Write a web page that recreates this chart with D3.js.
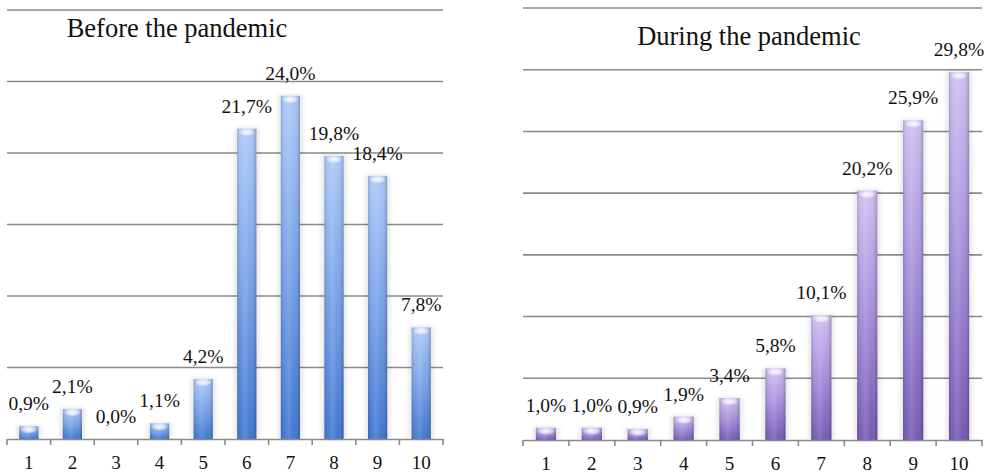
<!DOCTYPE html>
<html>
<head>
<meta charset="utf-8">
<script src="https://cdn.jsdelivr.net/npm/d3@7"></script>
<style>
  html, body { margin: 0; padding: 0; background: #ffffff; }
  svg { display: block; }
  text { font-family: "Liberation Serif", "Times New Roman", serif; fill: #111; }
</style>
</head>
<body>
<svg id="chart" width="989" height="474"></svg>
<script>
// Score categories (1–10) shared by both panels
const categories = ["1", "2", "3", "4", "5", "6", "7", "8", "9", "10"];

// Share of respondents per score, in percent
const beforeValues = [0.9, 2.1, 0.0, 1.1, 4.2, 21.7, 24.0, 19.8, 18.4, 7.8];
const duringValues = [1.0, 1.0, 0.9, 1.9, 3.4, 5.8, 10.1, 20.2, 25.9, 29.8];

// Value-axis tick values (grid lines)
const beforeTicks = [0, 5, 10, 15, 20, 25, 30];
const duringTicks = [0, 5, 10, 15, 20, 25, 30, 35];

const svg = d3.select("#chart");
const defs = svg.append("defs");

// Soft halo behind the bars
const halo = defs.append("filter").attr("id", "halo")
  .attr("x", "-50%").attr("y", "-10%").attr("width", "200%").attr("height", "120%");
halo.append("feGaussianBlur").attr("in", "SourceGraphic").attr("stdDeviation", 2.2);

// Horizontal cylinder shading, shared by all bars
const cyl = defs.append("linearGradient").attr("id", "cyl")
  .attr("x1", "0").attr("x2", "1").attr("y1", "0").attr("y2", "0");
[["0%", "#000", 0.16], ["18%", "#fff", 0.05], ["42%", "#fff", 0.16],
 ["70%", "#fff", 0.02], ["100%", "#000", 0.22]].forEach(([o, c, a]) =>
  cyl.append("stop").attr("offset", o).attr("stop-color", c).attr("stop-opacity", a));

// Light cap at the top of each bar
const cap = defs.append("radialGradient").attr("id", "cap")
  .attr("cx", "50%").attr("cy", "50%").attr("r", "50%");
cap.append("stop").attr("offset", "0%").attr("stop-color", "#fff").attr("stop-opacity", 0.9);
cap.append("stop").attr("offset", "60%").attr("stop-color", "#fff").attr("stop-opacity", 0.55);
cap.append("stop").attr("offset", "100%").attr("stop-color", "#fff").attr("stop-opacity", 0);

function verticalGradient(id, top, mid, bottom) {
  const g = defs.append("linearGradient").attr("id", id)
    .attr("x1", "0").attr("x2", "0").attr("y1", "0").attr("y2", "1");
  g.append("stop").attr("offset", "0%").attr("stop-color", top);
  g.append("stop").attr("offset", "45%").attr("stop-color", mid);
  g.append("stop").attr("offset", "100%").attr("stop-color", bottom);
}
verticalGradient("blueFill", "#a9c7f7", "#7aa3e8", "#3b73cf");
verticalGradient("purpleFill", "#cdbdf0", "#a690dc", "#7354b2");

const fmt = v => v.toFixed(1).replace(".", ",") + "%";

function drawPanel(opt) {
  const g = svg.append("g");

  const x = d3.scaleBand().domain(categories).range([opt.left, opt.right]).padding(0);
  const y = d3.scaleLinear().domain([0, opt.max]).range([opt.bottom, opt.top]);
  const barW = x.bandwidth() * 0.44;

  // Horizontal grid lines
  g.append("g").selectAll("line").data(opt.ticks.filter(t => t > 0)).join("line")
    .attr("x1", opt.left).attr("x2", opt.right)
    .attr("y1", d => y(d)).attr("y2", d => y(d))
    .attr("stroke", "#8a8a8a").attr("stroke-width", 1.6);

  // Title
  g.append("text")
    .attr("x", opt.titleX).attr("y", opt.titleY)
    .attr("text-anchor", "middle")
    .style("font-size", "26.5px")
    .text(opt.title);

  const bars = g.append("g").selectAll("g").data(opt.values).join("g")
    .attr("transform", (d, i) => `translate(${x(categories[i]) + (x.bandwidth() - barW) / 2},0)`);

  const shown = bars.filter(d => d > 0);

  // Halo
  shown.append("rect")
    .attr("x", -3).attr("width", barW + 6)
    .attr("y", d => y(d) - 1).attr("height", d => y(0) - y(d) + 1)
    .attr("fill", "#000").attr("opacity", 0.09)
    .attr("filter", "url(#halo)");

  // Bar body
  shown.append("rect")
    .attr("x", 0).attr("width", barW)
    .attr("y", d => y(d)).attr("height", d => y(0) - y(d))
    .attr("fill", `url(#${opt.fill})`);
  shown.append("rect")
    .attr("x", 0).attr("width", barW)
    .attr("y", d => y(d)).attr("height", d => y(0) - y(d))
    .attr("fill", "url(#cyl)");

  // Top cap
  shown.append("ellipse")
    .attr("cx", barW / 2).attr("cy", d => y(d) + 3.5)
    .attr("rx", barW / 2 - 1).attr("ry", 4)
    .attr("fill", "url(#cap)");

  // Value labels
  g.append("g").selectAll("text").data(opt.values).join("text")
    .attr("x", (d, i) => x(categories[i]) + x.bandwidth() / 2)
    .attr("y", d => y(d) - 16)
    .attr("text-anchor", "middle")
    .style("font-size", "19.5px")
    .text(d => fmt(d));

  // Category axis with labels centred in each band
  const axis = g.append("g")
    .attr("transform", `translate(0,${opt.bottom})`)
    .call(d3.axisBottom(x).tickSize(0).tickPadding(17));
  axis.select(".domain").attr("stroke", "#8a8a8a").attr("stroke-width", 1.6);
  axis.selectAll(".tick text")
    .style("font-family", "'Liberation Serif', 'Times New Roman', serif")
    .style("font-size", "19px").attr("fill", "#111");

  // Tick marks on band boundaries
  const bounds = categories.map(c => x(c)).concat([opt.right]);
  g.append("g").selectAll("line").data(bounds).join("line")
    .attr("x1", d => d).attr("x2", d => d)
    .attr("y1", opt.bottom).attr("y2", opt.bottom + 6)
    .attr("stroke", "#8a8a8a").attr("stroke-width", 1.6);
}

drawPanel({
  title: "Before the pandemic", titleX: 177, titleY: 37,
  values: beforeValues, ticks: beforeTicks, max: 30,
  left: 7, right: 443, top: 10, bottom: 439, fill: "blueFill"
});

drawPanel({
  title: "During the pandemic", titleX: 749, titleY: 45,
  values: duringValues, ticks: duringTicks, max: 35,
  left: 523, right: 982, top: 8, bottom: 440, fill: "purpleFill"
});
</script>
</body>
</html>
